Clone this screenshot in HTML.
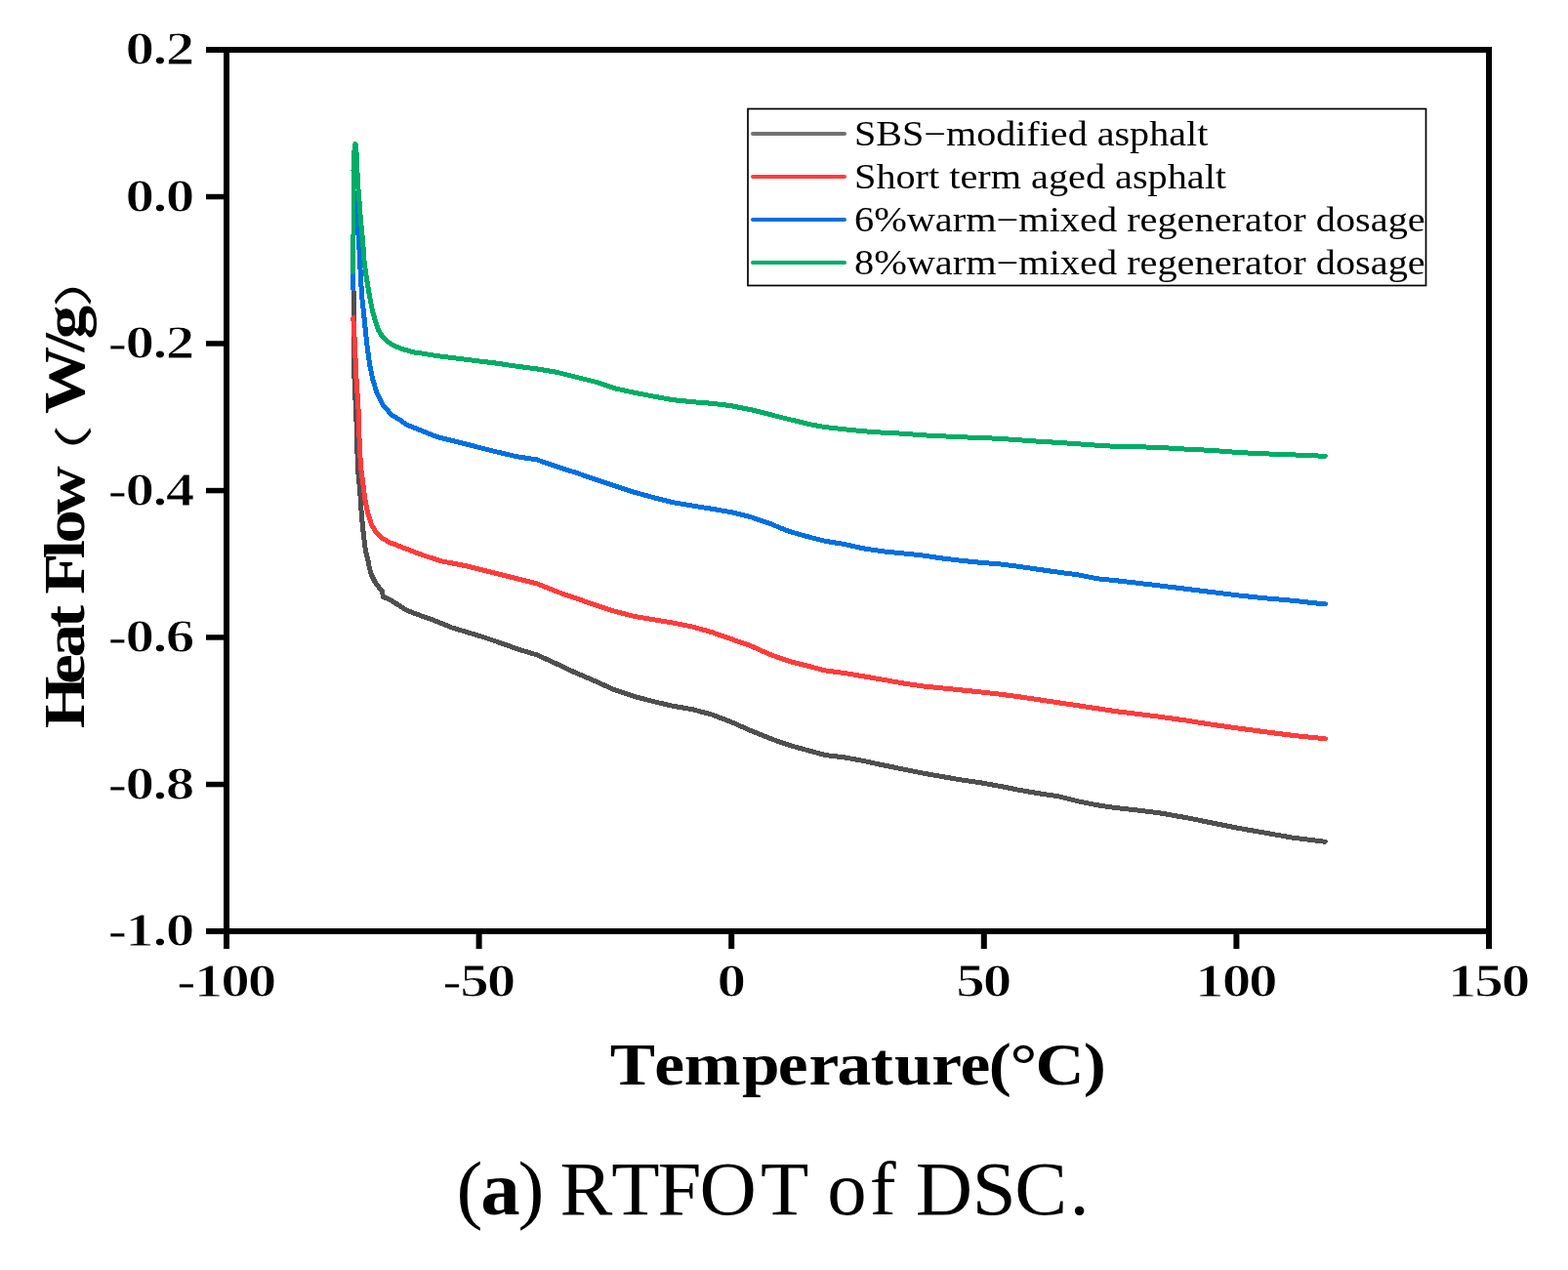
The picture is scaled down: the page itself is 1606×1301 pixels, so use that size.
<!DOCTYPE html>
<html><head><meta charset="utf-8"><title>RTFOT of DSC</title>
<style>
html,body{margin:0;padding:0;background:#fff;}
body{width:1606px;height:1301px;overflow:hidden;}
svg{display:block;}
.b{font-family:"Liberation Serif","Noto Serif CJK SC",serif;font-weight:bold;fill:#000;}
.r{font-family:"Liberation Serif","Noto Serif CJK SC",serif;fill:#000;}
</style></head><body>
<svg width="1606" height="1301" viewBox="0 0 1606 1301">
<rect width="1606" height="1301" fill="#fff"/>

<g fill="none" stroke-width="5.00" stroke-linejoin="round" stroke-linecap="round" shape-rendering="crispEdges">
<path d="M362.0 296.0L362.3 326.0L363.0 387.6L365.4 440.0L366.4 480.0L368.7 503.0L370.2 526.1L372.5 549.2L374.5 564.6L377.2 575.0L378.3 581.5L380.6 589.2L384.5 596.9L389.1 603.1L391.8 606.2L392.2 611.5L398.3 613.8L406.0 618.5L415.2 624.6L425.2 628.5L435.2 632.3L440.0 633.7L463.0 643.0L493.7 652.2L516.8 660.0L530.0 664.9L549.9 670.9L569.8 679.9L589.8 689.3L609.7 697.8L629.6 706.8L649.5 713.4L669.5 718.7L689.4 723.3L709.3 726.7L729.2 732.1L749.2 739.7L769.1 748.6L789.0 756.6L808.9 763.6L828.9 769.1L845.0 773.5L864.9 775.9L884.8 779.5L904.8 783.9L924.7 787.9L944.6 791.9L964.5 795.5L984.5 798.9L1004.4 801.8L1024.3 805.4L1044.2 809.4L1064.2 812.8L1084.1 815.8L1104.0 820.8L1123.9 824.8L1143.9 827.7L1160.0 829.4L1187.4 832.8L1214.8 837.6L1242.2 843.1L1269.6 848.6L1297.0 853.4L1324.4 858.2L1357.3 862.3" stroke="#4f4f4f"/>
<path d="M361.8 325.4L363.3 349.2L364.5 380.0L367.0 418.4L368.4 460.0L369.8 480.0L371.8 495.4L373.7 510.8L376.8 526.1L380.6 537.7L385.2 545.4L390.6 550.8L398.3 555.4L408.3 559.2L419.1 563.4L432.2 568.4L450.7 574.5L478.4 580.0L509.0 587.6L530.0 592.9L549.9 597.9L569.8 605.9L589.8 612.8L609.7 619.8L629.6 626.2L649.5 631.4L669.5 634.8L689.4 638.1L709.3 642.1L729.2 647.7L749.2 654.7L769.1 661.7L789.0 670.6L808.9 677.6L828.9 682.6L845.0 686.9L864.9 689.5L884.8 692.9L904.8 696.3L924.7 699.9L944.6 702.9L964.5 704.9L984.5 706.9L1004.4 708.9L1024.3 711.2L1044.2 713.8L1064.2 716.8L1084.1 719.8L1104.0 722.8L1123.9 725.8L1143.9 728.8L1160.0 730.8L1187.4 734.2L1214.8 738.0L1242.2 742.4L1269.6 746.2L1297.0 749.9L1324.4 753.4L1357.5 756.8" stroke="#ff3c3c"/>
<path d="M361.7 296.0L361.7 250.0L362.3 232.0L364.6 198.0L365.5 215.0L366.3 228.0L367.2 240.0L367.6 248.0L368.6 266.0L369.2 280.0L370.6 303.0L372.3 318.4L375.4 349.2L378.4 372.2L381.5 387.6L386.1 403.0L392.3 415.3L401.5 425.3L409.2 429.9L416.9 435.3L432.2 441.4L447.6 447.6L478.4 455.3L509.0 463.0L530.0 467.9L549.9 470.9L569.8 477.9L589.8 484.2L609.7 491.2L629.6 497.8L649.5 504.2L669.5 509.7L689.4 514.7L709.3 518.1L729.2 521.3L749.2 524.7L769.1 529.7L789.0 536.6L808.9 544.6L828.9 550.2L845.0 554.3L864.9 557.5L884.8 561.9L904.8 564.9L924.7 566.9L944.6 568.9L964.5 571.9L984.5 574.3L1004.4 576.3L1024.3 577.9L1044.2 580.4L1064.2 583.4L1084.1 586.2L1104.0 588.8L1123.9 592.8L1143.9 594.8L1160.0 596.7L1187.4 599.9L1214.8 603.3L1242.2 606.7L1269.6 610.1L1297.0 612.9L1324.4 615.3L1357.5 619.0" stroke="#0070e0"/>
<path d="M361.5 279.0L362.0 240.0L362.0 175.0L362.5 158.0L364.0 147.5L365.3 158.0L366.1 179.0L366.8 192.0L367.7 201.0L368.5 213.0L369.5 226.0L370.5 237.0L371.5 246.0L372.9 266.0L374.6 280.0L378.4 303.0L381.5 318.4L384.6 329.2L387.7 338.4L391.5 344.6L396.9 350.0L403.0 353.8L412.3 357.6L426.0 361.5L429.0 361.5L447.6 364.6L478.4 368.4L509.0 372.2L530.0 375.3L549.9 377.9L569.8 381.2L589.8 386.2L609.7 391.2L629.6 397.8L649.5 402.2L669.5 406.1L689.4 409.7L709.3 411.7L729.2 413.3L749.2 415.7L769.1 419.7L789.0 424.7L808.9 429.7L828.9 434.6L845.0 437.5L864.9 439.8L884.8 441.8L904.8 443.2L924.7 444.2L944.6 445.8L964.5 446.8L984.5 447.8L1004.4 448.4L1024.3 449.4L1044.2 450.8L1064.2 452.2L1084.1 453.4L1104.0 454.8L1123.9 456.2L1143.9 457.4L1160.0 457.6L1187.4 458.4L1214.8 460.1L1242.2 461.5L1269.6 463.6L1297.0 464.9L1324.4 465.9L1357.3 467.3" stroke="#00ad66"/>
</g>
<g fill="#000">
<rect x="229" y="48" width="6" height="909"/>
<rect x="1522" y="48" width="6" height="924"/>
<rect x="211" y="48" width="1317" height="6"/>
<rect x="211" y="951" width="1317" height="6"/>
<rect x="211" y="48.2" width="20" height="5.5"/>
<rect x="211" y="198.8" width="20" height="5.5"/>
<rect x="211" y="349.2" width="20" height="5.5"/>
<rect x="211" y="499.8" width="20" height="5.5"/>
<rect x="211" y="650.2" width="20" height="5.5"/>
<rect x="211" y="800.8" width="20" height="5.5"/>
<rect x="211" y="951.2" width="20" height="5.5"/>
<rect x="229.0" y="951" width="6" height="21"/>
<rect x="487.6" y="951" width="6" height="21"/>
<rect x="746.2" y="951" width="6" height="21"/>
<rect x="1004.8" y="951" width="6" height="21"/>
<rect x="1263.4" y="951" width="6" height="21"/>
<rect x="1522.0" y="951" width="6" height="21"/>
</g>
<g class="b" stroke="#fff" stroke-width="1.00" font-size="49.20">
<text transform="translate(0 66.20) scale(1.2032 1)" x="106.72 130.01 141.01">0.2</text>
<text transform="translate(0 216.70) scale(1.2032 1)" x="106.72 130.01 141.00">0.0</text>
<text transform="translate(0 367.20) scale(1.2032 1)" x="91.79 106.72 130.01 141.01">-0.2</text>
<text transform="translate(0 517.70) scale(1.2032 1)" x="91.79 106.72 130.01 141.01">-0.4</text>
<text transform="translate(0 668.20) scale(1.2032 1)" x="91.79 106.72 130.01 141.00">-0.6</text>
<text transform="translate(0 818.70) scale(1.2032 1)" x="91.79 106.72 130.01 141.00">-0.8</text>
<text transform="translate(0 969.20) scale(1.2032 1)" x="91.79 106.67 130.01 141.00">-1.0</text>
<text transform="translate(0 1021.40) scale(1.2032 1)" x="150.35 165.23 188.14 210.99">-100</text>
<text transform="translate(0 1021.40) scale(1.2032 1)" x="376.71 391.64 414.50">-50</text>
<text transform="translate(0 1021.40) scale(1.2032 1)" x="610.39">0</text>
<text transform="translate(0 1021.40) scale(1.2032 1)" x="813.89 836.75">50</text>
<text transform="translate(0 1021.40) scale(1.2032 1)" x="1017.35 1040.26 1063.11">100</text>
<text transform="translate(0 1021.40) scale(1.2032 1)" x="1232.28 1255.18 1278.05">150</text>
</g>
<text class="b" transform="translate(0 1111.00) scale(1.1370 1.0000)" font-size="61.00" x="549.5 589.6 616.3 668.5 700.8 728.6 754.2 784.4 805.6 839.3 865.1 890.8 909.8 932.8 976.0">Temperature(°C)</text>
<text class="b" transform="translate(86.20 0) rotate(-90) scale(1.1500 1.0000)" font-size="60.00" x="-648.9 -609.4 -585.7 -559.1 -539.1 -529.3 -497.7 -484.0 -458.4">Heat Flow</text>
<text font-family="&quot;Liberation Serif&quot;, &quot;Noto Sans CJK SC&quot;, sans-serif" fill="#000" transform="translate(89.10 501.70) rotate(-90) scale(1.7000 1.0000)" font-size="39.20">（</text>
<text class="b" transform="translate(86.20 0) rotate(-90) scale(1.1500 1.0000)" font-size="60.00" x="-368.7 -313.5 -302.0">W/g</text>
<text font-family="&quot;Liberation Serif&quot;, &quot;Noto Sans CJK SC&quot;, sans-serif" fill="#000" transform="translate(89.10 315.10) rotate(-90) scale(1.7000 1.0000)" font-size="39.20">）</text>
<rect x="766" y="111.5" width="694.5" height="181" fill="none" stroke="#000" stroke-width="1.70"/>
<line x1="771" y1="137.0" x2="865" y2="137.0" stroke="#727272" stroke-width="4.00" stroke-linecap="round"/>
<text class="r" transform="translate(875.00 148.50) scale(1.1460 1.0000)" font-size="35.00">SBS−modified asphalt</text>
<line x1="771" y1="181.0" x2="865" y2="181.0" stroke="#ff3c3c" stroke-width="4.00" stroke-linecap="round"/>
<text class="r" transform="translate(875.00 192.50) scale(1.1500 1.0000)" font-size="35.00">Short term aged asphalt</text>
<line x1="771" y1="225.0" x2="865" y2="225.0" stroke="#0070e0" stroke-width="4.00" stroke-linecap="round"/>
<text class="r" transform="translate(875.00 236.50) scale(1.1522 1.0000)" font-size="35.00">6%warm−mixed regenerator dosage</text>
<line x1="771" y1="269.0" x2="865" y2="269.0" stroke="#00ad66" stroke-width="4.00" stroke-linecap="round"/>
<text class="r" transform="translate(875.00 280.50) scale(1.1522 1.0000)" font-size="35.00">8%warm−mixed regenerator dosage</text>
<text class="r" transform="translate(0 1244.00) scale(1.0300 1)" font-size="78.40" x="454.0 477.8 515.1 541.3 556.8 608.0 654.0 695.7 756.3 804.1 822.5 864.8 890.9 910.5 966.7 1009.0 1063.5">(<tspan font-weight="bold">a</tspan>) RTFOT of DSC.</text>
</svg>
</body></html>
